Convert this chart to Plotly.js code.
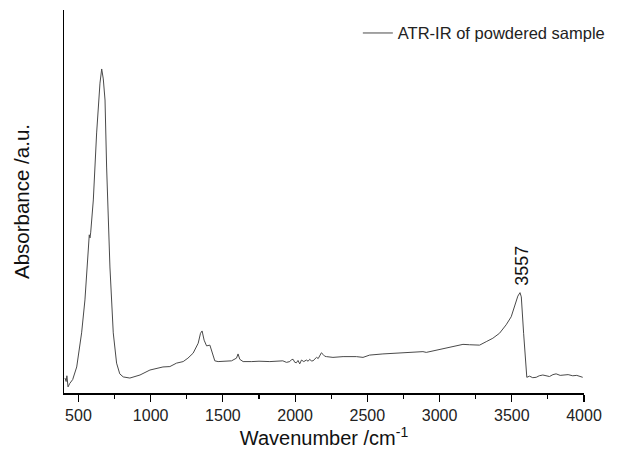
<!DOCTYPE html>
<html>
<head>
<meta charset="utf-8">
<script src="https://cdn.plot.ly/plotly-3.0.1.min.js"></script>
<style>html,body{margin:0;padding:0;background:#fff;}#chart{width:619px;height:456px;}</style>
</head>
<body>
<div id="chart"></div>
<script>
// Wavenumber (cm^-1) and absorbance (a.u.)
const wavenumber = [
  407, 415, 420, 428, 440, 460, 488, 522, 545, 568, 575, 580, 585, 603, 626, 649, 661, 672, 684, 695,
  718, 741, 764, 786, 810, 856, 926, 995, 1085, 1133, 1179, 1225, 1258, 1294, 1329, 1345, 1356, 1370, 1387, 1410,
  1426, 1444, 1467, 1520, 1560, 1594, 1605, 1617, 1640, 1700, 1750, 1825, 1880, 1915, 1940, 1963, 1975, 1986, 1998, 2009,
  2020, 2032, 2044, 2060, 2078, 2090, 2101, 2112, 2124, 2136, 2148, 2160, 2170, 2182, 2193, 2205, 2217, 2262, 2332, 2424,
  2470, 2516, 2608, 2701, 2793, 2885, 2908, 2978, 3023, 3070, 3116, 3162, 3208, 3277, 3323, 3369, 3415, 3461, 3496, 3519,
  3542, 3557, 3566, 3582, 3595, 3604, 3623, 3645, 3669, 3690, 3715, 3740, 3761, 3785, 3807, 3835, 3865, 3890, 3922, 3950, 3991
];
const absorbance = [
  0.039, 0.030, 0.045, 0.016, 0.025, 0.035, 0.068, 0.157, 0.243, 0.366, 0.413, 0.405, 0.420, 0.504, 0.679, 0.809, 0.846, 0.820, 0.765, 0.590,
  0.329, 0.157, 0.078, 0.050, 0.042, 0.039, 0.047, 0.060, 0.068, 0.069, 0.078, 0.082, 0.091, 0.104, 0.130, 0.156, 0.162, 0.138, 0.123, 0.125,
  0.108, 0.084, 0.082, 0.083, 0.084, 0.091, 0.102, 0.088, 0.082, 0.082, 0.083, 0.082, 0.083, 0.084, 0.080, 0.082, 0.087, 0.088, 0.080, 0.079,
  0.085, 0.076, 0.086, 0.082, 0.086, 0.083, 0.088, 0.084, 0.084, 0.090, 0.093, 0.090, 0.099, 0.105, 0.101, 0.096, 0.095, 0.093, 0.095, 0.095,
  0.093, 0.099, 0.102, 0.104, 0.106, 0.108, 0.106, 0.112, 0.117, 0.120, 0.123, 0.127, 0.126, 0.125, 0.134, 0.143, 0.156, 0.178, 0.199, 0.225,
  0.253, 0.262, 0.251, 0.156, 0.069, 0.041, 0.044, 0.040, 0.041, 0.045, 0.047, 0.044, 0.043, 0.048, 0.050, 0.046, 0.047, 0.048, 0.045, 0.046, 0.041
];
const tickValues = [500, 1000, 1500, 2000, 2500, 3000, 3500, 4000];
const tickLabels = ["500", "1000", "1500", "2000", "2500", "3000", "3500", "4000"];
const peakLabel = {x: 3557, y: 0.262, text: "3557"};
const seriesName = "ATR-IR of powdered sample";

const font = "Liberation Sans, Arial, Helvetica, sans-serif";

const trace = {
  x: wavenumber, y: absorbance, type: "scatter", mode: "lines",
  name: seriesName, showlegend: true,
  line: {color: "#4a4a4a", width: 1}
};

const layout = {
  width: 619, height: 456,
  margin: {l: 64, r: 34, t: 10, b: 63},
  paper_bgcolor: "#fff", plot_bgcolor: "#fff",
  font: {family: font, color: "#222", size: 16},
  showlegend: true,
  legend: {x: 0.564, xanchor: "left", y: 0.985, yanchor: "top",
           bgcolor: "rgba(0,0,0,0)", font: {size: 16.5, color: "#222"}},
  xaxis: {
    range: [400, 4000], showgrid: false, zeroline: false,
    showline: true, linecolor: "#000", linewidth: 1.5, mirror: false,
    tickmode: "array", tickvals: tickValues, ticktext: tickLabels,
    ticks: "outside", ticklen: 7, tickwidth: 1.2, tickcolor: "#000",
    minor: {dtick: 250, tick0: 250, ticks: "outside", ticklen: 4, tickwidth: 1.2, tickcolor: "#000", showgrid: false},
    tickfont: {size: 16, color: "#222"},
    title: {text: "Wavenumber /cm<sup>-1</sup>", font: {size: 20, color: "#111"}, standoff: 8},
    automargin: false
  },
  yaxis: {
    range: [0, 1], showgrid: false, zeroline: false,
    showline: true, linecolor: "#000", linewidth: 1.5,
    showticklabels: false, ticks: "",
    title: {text: "Absorbance /a.u.", font: {size: 20.5, color: "#111"}, standoff: 27},
    automargin: false
  },
  annotations: [{
    x: peakLabel.x, y: peakLabel.y, xref: "x", yref: "y", text: peakLabel.text,
    showarrow: false, textangle: -90, yanchor: "bottom", xanchor: "center", yshift: 5, xshift: 2,
    font: {size: 18, color: "#111"}
  }]
};

Plotly.newPlot("chart", [trace], layout, {displayModeBar: false, staticPlot: true});
</script>
</body>
</html>
